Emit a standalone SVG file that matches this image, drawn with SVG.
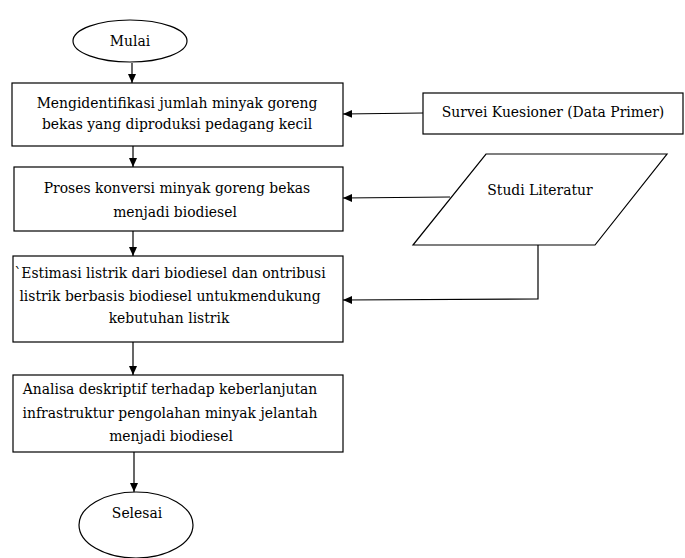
<svg xmlns="http://www.w3.org/2000/svg" width="685" height="558" viewBox="0 0 685 558">
<style>
.s{fill:#fff;stroke:#000;stroke-width:1.2}
text{font-family:'DejaVu Serif','Liberation Serif',serif;font-size:13.9px;fill:#000;text-anchor:middle}
.c{fill:none;stroke:#000;stroke-width:1.2}
</style>
<defs>
<marker id="a" markerWidth="10" markerHeight="10" refX="9" refY="5" orient="auto" markerUnits="userSpaceOnUse">
<path d="M0,1 L9,5 L0,9 Z" fill="#000"/>
</marker>
</defs>
<rect width="685" height="558" fill="#fff"/>
<g id="mulai">
<ellipse class="s" cx="130" cy="41" rx="57" ry="21"/>
<text x="130" y="45.5">Mulai</text>
</g>
<g id="box1">
<rect class="s" x="12" y="83" width="331" height="63"/>
<text x="177" y="108">Mengidentifikasi jumlah minyak goreng</text>
<text x="177" y="129">bekas yang diproduksi pedagang kecil</text>
</g>
<g id="box2">
<rect class="s" x="14" y="167" width="329" height="64"/>
<text x="177" y="193">Proses konversi minyak goreng bekas</text>
<text x="175" y="217">menjadi biodiesel</text>
</g>
<g id="box3">
<rect class="s" x="13" y="256" width="330" height="86"/>
<text x="170" y="278">`Estimasi listrik dari biodiesel dan ontribusi</text>
<text x="170" y="301">listrik berbasis biodiesel untukmendukung</text>
<text x="169" y="323">kebutuhan listrik</text>
</g>
<g id="box4">
<rect class="s" x="13" y="375" width="330" height="77"/>
<text x="170" y="394">Analisa deskriptif terhadap keberlanjutan</text>
<text x="170" y="418">infrastruktur pengolahan minyak jelantah</text>
<text x="171" y="441">menjadi biodiesel</text>
</g>
<g id="selesai">
<ellipse class="s" cx="136" cy="525" rx="57" ry="33"/>
<text x="137" y="518">Selesai</text>
</g>
<g id="survei">
<rect class="s" x="423" y="93" width="260" height="41"/>
<text x="553" y="117">Survei Kuesioner (Data Primer)</text>
</g>
<g id="studi">
<polygon class="s" points="486,154 667,154 595,245 413,245"/>
<text x="540" y="195">Studi Literatur</text>
</g>
<g id="connectors">
<line class="c" x1="132" y1="63" x2="132" y2="83" marker-end="url(#a)"/>
<line class="c" x1="133" y1="146" x2="133" y2="167" marker-end="url(#a)"/>
<line class="c" x1="133" y1="231" x2="133" y2="256" marker-end="url(#a)"/>
<line class="c" x1="133" y1="342" x2="133" y2="375" marker-end="url(#a)"/>
<line class="c" x1="134" y1="452" x2="134" y2="492" marker-end="url(#a)"/>
<line class="c" x1="423" y1="113" x2="343" y2="114" marker-end="url(#a)"/>
<line class="c" x1="450" y1="197" x2="343" y2="198" marker-end="url(#a)"/>
<polyline class="c" points="538,245 538,299 343,300" marker-end="url(#a)"/>
</g>
</svg>
